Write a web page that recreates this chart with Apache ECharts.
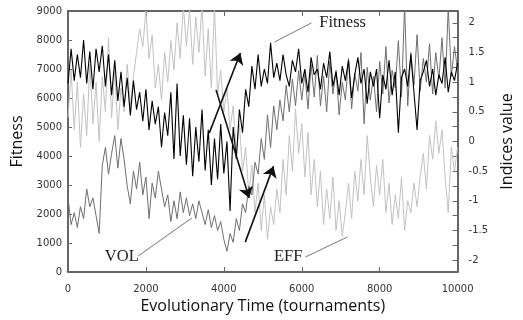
<!DOCTYPE html>
<html>
<head>
<meta charset="utf-8">
<script src="https://cdn.jsdelivr.net/npm/echarts@6/dist/echarts.min.js"></script>
<style>
  html, body { margin: 0; padding: 0; background: #fff; }
  #chart { width: 523px; height: 320px; }
</style>
</head>
<body>
<div id="chart"></div>
<script>
// sampling step of the three traces (tournaments)
var timeStep = 80

// Fitness (left axis)
var fitness = [
  6500, 7700, 6600, 7500, 6700, 8000, 6500, 7600, 6300, 7700,
  6900, 7800, 6400, 7500, 6100, 7300, 5900, 6900, 5700, 6700,
  5400, 6600, 5600, 6200, 5200, 6300, 4900, 5900, 5100, 5700,
  4300, 5500, 4700, 6200, 3900, 6500, 4000, 5400, 3700, 5300,
  3300, 5000, 3800, 5600, 3500, 4900, 3000, 4600, 3200, 5100,
  3400, 4500, 2100, 5000, 3900, 5600, 4800, 6300, 5700, 7100,
  6300, 7500, 6400, 7000, 6500, 7900, 6700, 7200, 6600, 7500,
  6800, 6400, 7300, 6900, 7700, 6500, 7000, 6200, 7400, 6800,
  7000, 6300, 7200, 6700, 7600, 6400, 6900, 6100, 7100, 6600,
  7300, 6000, 6800, 7400, 6500, 7000, 5800, 6900, 6400, 7000,
  5300, 6800, 6300, 7300, 6100, 6900, 4800, 6700, 7000, 6400,
  7500, 6200, 4900, 6600, 6900, 7300, 6400, 7000, 6100, 6800,
  6500, 7400, 6200, 6900, 6600, 7200
]

// VOL index (right axis)
var vol = [
  -0.95, -1.4, -1.2, -1.45, -1.1, -1.3, -0.8, -1.1, -0.95, -1.25,
  -1.55, -0.4, -0.1, -0.55, -0.2, 0.1, -0.45, 0.05, -0.3, -0.75,
  -1.05, -0.5, -0.8, -0.35, -0.9, -0.6, -1.3, -0.7, -0.95, -0.5,
  -0.8, -1.1, -0.9, -1.35, -1.0, -1.3, -0.85, -1.2, -0.95, -1.25,
  -1.05, -1.3, -1.0, -1.2, -1.4, -1.15, -1.45, -1.25, -1.5, -1.35,
  -1.65, -1.85, -1.55, -1.7, -1.3, -1.5, -1.05, -1.2, -0.75, -0.9,
  -0.35, -0.55, 0.05, -0.3, 0.45, -0.1, 0.6, 0.2, 0.7, 0.35,
  0.95, 0.5, 1.05, 0.6, 1.2, 0.7, 1.15, 0.55, 1.3, 0.75,
  1.45, 0.6, 1.1, 0.5, 1.35, 0.8, 1.2, 0.45, 1.0, 0.7,
  1.4, 0.55, 1.15, 0.85, 1.5, 0.3, 1.25, 0.7, 1.1, 0.5,
  1.35, 0.8, 1.6, 0.65, 1.2, 0.9, 1.7, 0.75, 2.3, 0.6,
  1.5, 0.95, 1.8, 0.85, 1.4, 1.0, 1.65, 0.8, 1.5, 1.05,
  1.75, 0.9, 2.25, 1.1, 1.6, 1.2
]

// EFF index (right axis)
var eff = [
  0.4, 1.2, 0.2, 1.0, -0.1, 0.8, 0.1, 1.3, 0.3, 1.0,
  0.0, 1.1, 0.5, 1.75, 0.4, 1.2, 0.2, 0.9, 0.5, 1.3,
  0.6, 1.1, 1.5, 1.9, 1.6, 2.2, 1.4, 1.8, 0.9, 1.3,
  0.7, 1.5, 1.0, 1.7, 1.2, 2.0, 1.4, 2.3, 1.6, 2.25,
  1.3, 2.1, 1.5, 2.3, 1.1, 1.9, 0.9, 2.3, 0.8, 1.2,
  0.5, 0.9, 0.2, 0.6, -0.2, 0.3, -0.5, -0.1, -0.9, -0.4,
  -1.2, -0.7, -1.5, -0.9, -1.65, -1.1, -1.4, -0.8, -1.2, -0.3,
  -0.9, 0.1, -0.5, 0.55, -0.2, 0.3, -0.6, 0.15, -0.9, -0.3,
  -1.1, -0.5, -1.4, -0.8, -1.3, -0.6, -1.5, -1.0, -1.6, -1.2,
  -0.7, -1.3, -0.5, -1.0, -0.3, -0.9, 0.1, -0.6, -1.1, -0.4,
  -0.9, -0.3, -1.2, -0.7, -1.4, -0.9, -1.3, -0.6, -1.5, -1.0,
  -1.2, -0.7, -1.1, -0.6, -0.2, -0.8, 0.1, -0.3, 0.35, -0.2,
  0.2, -0.6, -1.2, -0.1, -0.5, -0.1
]

// right axis labels / ticks
var indexLabels = [-2, -1.5, -1, -0.5, 0, 0.5, 1, 1.5, 2]
var indexTicks = [-2, -1.75, -1.5, -1.25, -1, -0.75, -0.5, -0.25, 0, 0.25, 0.5, 0.75, 1, 1.25, 1.5, 1.75, 2]

// annotations: [time, fitness]
var fitnessNote = { text: [7050, 8590], line: [[5300, 7930], [6250, 8590]] }
var volNote = { text: [1380, 520], line: [[1800, 550], [3175, 1860]] }
var effNote = { text: [5650, 520], line: [[6100, 520], [7175, 1210]] }
var arrows = [
  [[3625, 4790], [4425, 7550]],
  [[3800, 6280], [4650, 2550]],
  [[4550, 1030], [5275, 3650]]
]

function pairs(values) {
  return values.map(function (v, i) { return [i * timeStep, v] })
}

var chart = echarts.init(document.getElementById('chart'))

var axisColor = '#333'
var tickFont = { color: '#333', fontSize: 10, fontFamily: 'DejaVu Sans' }
var plain = function (v) { return String(v) }

var noteLabel = function (txt) {
  return {
    show: true, position: 'inside', formatter: txt,
    color: '#222', fontSize: 16.5, fontFamily: 'Liberation Serif'
  }
}

var segs = [fitnessNote.line, volNote.line, effNote.line].map(function (l) {
  return [{ coord: l[0] }, { coord: l[1] }]
})

chart.setOption({
  animation: false,
  grid: { left: 68, right: 55, top: 11, bottom: 48 },
  xAxis: [
    {
      type: 'value', min: 0, max: 10000, interval: 2000,
      name: 'Evolutionary Time (tournaments)', nameLocation: 'middle', nameGap: 24,
      nameTextStyle: { fontSize: 16, fontFamily: 'Open Sans', color: '#111' },
      axisLine: { onZero: false, lineStyle: { color: axisColor, width: 1.5 } },
      axisTick: { inside: true, length: 5, lineStyle: { color: '#666' } },
      axisLabel: Object.assign({ margin: 12, formatter: plain }, tickFont),
      splitLine: { show: false }
    },
    {
      type: 'value', min: 0, max: 10000, interval: 2000, position: 'top',
      axisLine: { onZero: false, lineStyle: { color: axisColor, width: 1.5 } },
      axisTick: { inside: true, length: 5, lineStyle: { color: '#666' } },
      axisLabel: { show: false },
      splitLine: { show: false }
    }
  ],
  yAxis: [
    {
      type: 'value', min: 0, max: 9000, interval: 1000,
      name: 'Fitness', nameLocation: 'middle', nameGap: 42,
      nameTextStyle: { fontSize: 16, fontFamily: 'Open Sans', color: '#111' },
      axisLine: { show: true, onZero: false, lineStyle: { color: axisColor, width: 1.5 } },
      axisTick: { show: true, inside: true, length: 4, lineStyle: { color: '#666' } },
      axisLabel: Object.assign({ margin: 6, formatter: plain }, tickFont),
      splitLine: { show: false }
    },
    {
      type: 'value', min: -2.2, max: 2.2, position: 'right',
      name: 'Indices value', nameLocation: 'middle', nameGap: 32, nameRotate: 90,
      nameTextStyle: { fontSize: 16, fontFamily: 'Open Sans', color: '#111' },
      axisLine: { show: true, onZero: false, lineStyle: { color: axisColor, width: 1.5 } },
      axisTick: { show: true, inside: true, length: 5, customValues: indexTicks, lineStyle: { color: '#666' } },
      axisLabel: Object.assign({ margin: 11, customValues: indexLabels }, tickFont),
      splitLine: { show: false }
    }
  ],
  series: [
    {
      name: 'EFF', type: 'line', yAxisIndex: 1, data: pairs(eff),
      symbol: 'none', lineStyle: { color: '#c2c2c2', width: 1 }, z: 2
    },
    {
      name: 'VOL', type: 'line', yAxisIndex: 1, data: pairs(vol),
      symbol: 'none', lineStyle: { color: '#6f6f6f', width: 1 }, z: 3
    },
    {
      name: 'Fitness', type: 'line', yAxisIndex: 0, data: pairs(fitness),
      symbol: 'none', lineStyle: { color: '#000', width: 1.1 }, z: 4,
      markLine: {
        silent: true, symbol: 'none', label: { show: false },
        lineStyle: { color: '#555', width: 0.8, type: 'solid' },
        data: segs
      },
      markPoint: {
        silent: true, symbol: 'circle', symbolSize: 0,
        data: [
          { coord: fitnessNote.text, label: noteLabel('Fitness') },
          { coord: volNote.text, label: noteLabel('VOL') },
          { coord: effNote.text, label: noteLabel('EFF') }
        ]
      }
    },
    {
      name: 'arrows', type: 'line', yAxisIndex: 0, data: [], z: 5,
      markLine: {
        silent: true, symbol: ['none', 'arrow'], symbolSize: 11,
        label: { show: false },
        lineStyle: { color: '#111', width: 1.6, type: 'solid' },
        data: arrows.map(function (a) { return [{ coord: a[0] }, { coord: a[1] }] })
      }
    }
  ]
})
</script>
</body>
</html>
